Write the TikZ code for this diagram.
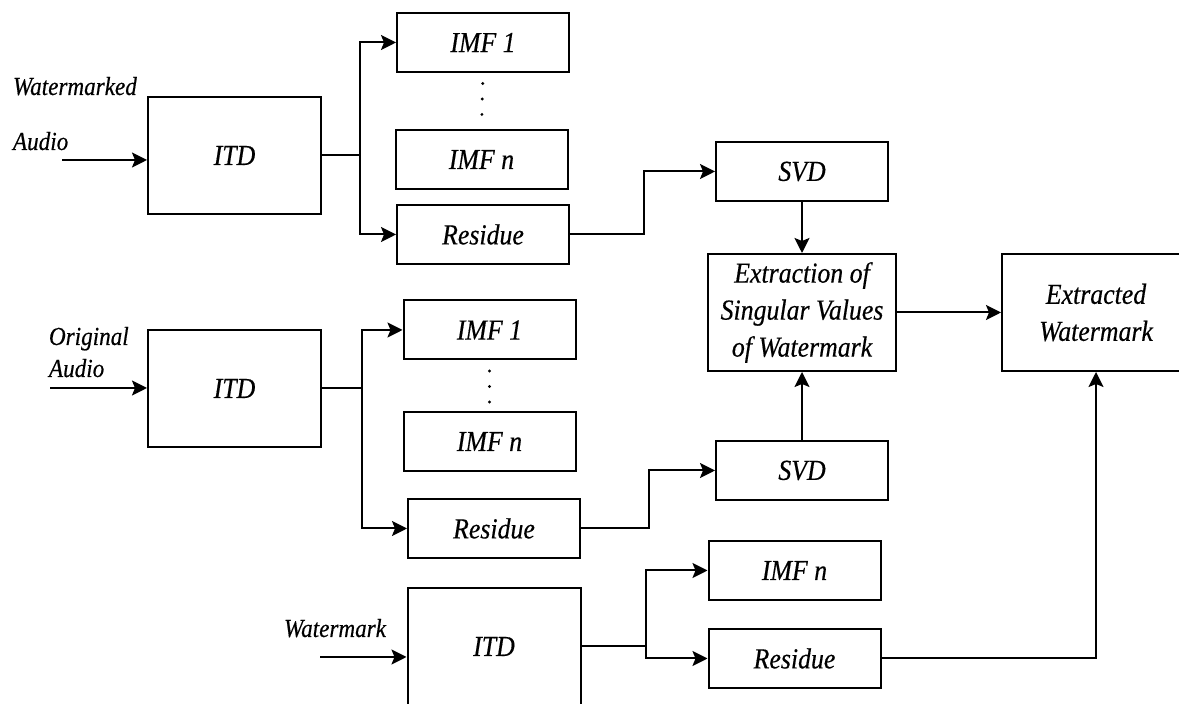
\documentclass[tikz,border=0pt]{standalone}
\usepackage{fontspec}
\setmainfont{Liberation Serif}[FakeStretch=0.89,FakeBold=0.4]
\usetikzlibrary{arrows.meta}
\tikzset{
  box/.style={draw, inner sep=0pt, align=center,
    minimum width=86pt, minimum height=29.5pt,
    font=\fontsize{14.5}{18.5}\selectfont\itshape},
  bigbox/.style={box, minimum width=86.5pt, minimum height=58.5pt},
  lbl/.style={inner sep=0pt, anchor=base west,
    font=\fontsize{13}{16}\selectfont\itshape},
  dots/.style={line width=1.6pt, line cap=round, dash pattern=on 0pt off 7.75pt, dash phase=2.5pt}
}
\begin{document}
\begin{tikzpicture}[x=0.5pt, y=-0.5pt, line width=1pt, >={Stealth[length=7.5pt,width=7.5pt,inset=1.5pt]}]
  \useasboundingbox (0,0) rectangle (1179,704);
  \clip (0,0) rectangle (1179,704);
  % 透かし入り音声
  \node[bigbox] (itdA) at (234.5,155.5) {ITD};
  \node[box] (imfA1) at (483,42.5) {IMF 1};
  \node[box] (imfAn) at (481.5,159.5) {IMF \textit{n}};
  \node[box] (resA) at (483,234.5) {Residue};
  \node[box] (svdA) at (802,171.5) {SVD};
  \node[lbl] (tWm) at (12,95) {Watermarked};
  \node[lbl] (tAuA) at (12,150) {Audio};
  \coordinate (inA) at (62,160);
  % 原音声
  \node[bigbox] (itdB) at (234.5,388.5) {ITD};
  \node[box] (imfB1) at (489.5,330) {IMF 1};
  \node[box] (imfBn) at (489.5,441.5) {IMF \textit{n}};
  \node[box] (resB) at (494,528.5) {Residue};
  \node[box] (svdB) at (802,470.5) {SVD};
  \node[lbl] (tOr) at (48,345) {Original};
  \node[lbl] (tAuB) at (48,377) {Audio};
  \coordinate (inB) at (50,388);
  % 透かし
  \node[bigbox] (itdC) at (494,646.5) {ITD};
  \node[box] (imfCn) at (794.5,570.5) {IMF \textit{n}};
  \node[box] (resC) at (794.5,658.5) {Residue};
  \node[lbl] (tWk) at (283,637) {Watermark};
  \coordinate (inC) at (320,657);
  % 抽出
  \node[bigbox, minimum width=94pt] (ext) at (802,312.5) {Extraction of\\Singular Values\\of Watermark};
  \node[bigbox, minimum width=94pt] (wmk) at (1096,312.5) {Extracted\\Watermark};
  % 接続
  \draw[->] (inA) -- (inA -| itdA.west);
  \draw (itdA.east) -- ++(38,0) coordinate (brA);
  \draw[->] (brA) |- (imfA1.west);
  \draw[->] (brA) |- (resA.west);
  \draw[dots] (imfA1.south) -- (imfAn.north);
  \draw[->] (resA.east) -- ++(74,0) |- (svdA.west);
  \draw[->] (svdA.south) -- (ext.north);
  \draw[->] (inB) -- (inB -| itdB.west);
  \draw (itdB.east) -- ++(40,0) coordinate (brB);
  \draw[->] (brB) |- (imfB1.west);
  \draw[->] (brB) |- (resB.west);
  \draw[dots] (imfB1.south) -- (imfBn.north);
  \draw[->] (resB.east) -- ++(68,0) |- (svdB.west);
  \draw[->] (svdB.north) -- (ext.south);
  \draw[->] (ext.east) -- (wmk.west);
  \draw[->] (inC) -- (inC -| itdC.west);
  \draw (itdC.east) -- ++(64,0) coordinate (brC);
  \draw[->] (brC) |- (imfCn.west);
  \draw[->] (brC) |- (resC.west);
  \draw[->] (resC.east) -| (wmk.south);
\end{tikzpicture}
\end{document}
